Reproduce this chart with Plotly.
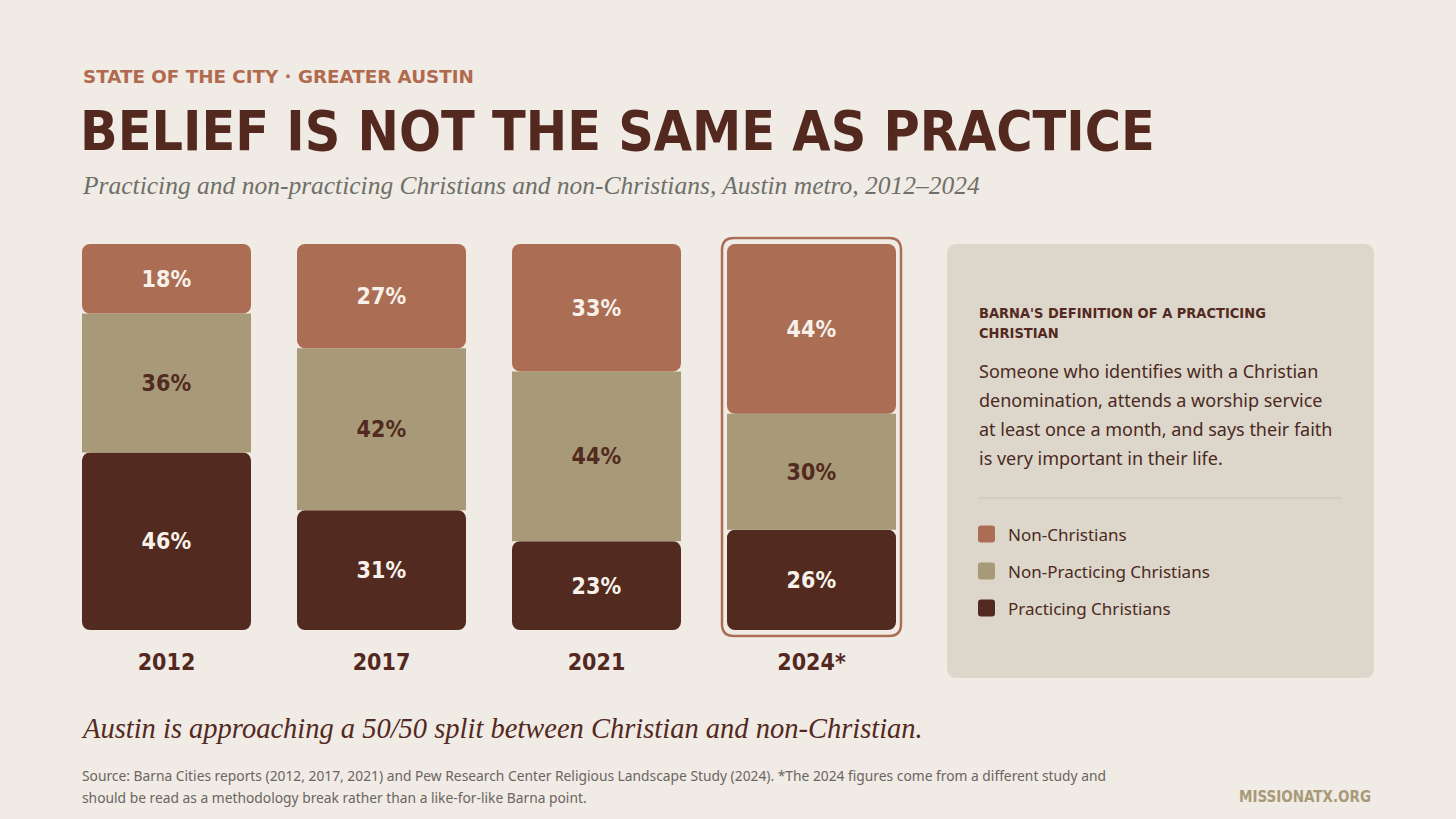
import plotly.graph_objects as go

# --- data ---
years = ["2012", "2017", "2021", "2024*"]
practicing = [46, 31, 23, 26]
non_practicing = [36, 42, 44, 30]
non_christian = [18, 27, 33, 44]

series_names = ["Non-Christians", "Non-Practicing Christians", "Practicing Christians"]

kicker = "STATE OF THE CITY · GREATER AUSTIN"
title = "BELIEF IS NOT THE SAME AS PRACTICE"
subtitle = "Practicing and non-practicing Christians and non-Christians, Austin metro, 2012–2024"
takeaway = "Austin is approaching a 50/50 split between Christian and non-Christian."
panel_head = ["BARNA'S DEFINITION OF A PRACTICING", "CHRISTIAN"]
panel_body = [
    "Someone who identifies with a Christian",
    "denomination, attends a worship service",
    "at least once a month, and says their faith",
    "is very important in their life.",
]
source_lines = [
    "Source: Barna Cities reports (2012, 2017, 2021) and Pew Research Center Religious Landscape Study (2024). "
    "*The 2024 figures come from a different study and",
    "should be read as a methodology break rather than a like-for-like Barna point.",
]
site = "MISSIONATX.ORG"
highlight_year = "2024*"

# --- style ---
W, H = 1456, 819
BG = "#F0EBE5"
PANEL = "#DDD6CA"
C_NONC = "#AB6E55"
C_NONP = "#A89A78"
C_PRAC = "#522A20"
DARK = "#53291F"
KICKER = "#B06A4E"
LIGHT = "#F7F1EA"
GREY = "#6E7068"
COND = "DejaVu Sans Condensed, sans-serif"
WIDE = "DejaVu Sans, sans-serif"
SERIF = "Liberation Serif, DejaVu Serif, serif"
SANS = "Noto Sans, Lato, sans-serif"


def px(x):
    return x / W


def py(y):
    return 1 - y / H


def pct(vals):
    return [f"{v}%" for v in vals]


fig = go.Figure()

bar_w = 0.786
base_top = [p + n for p, n in zip(practicing, non_practicing)]
label_font = dict(family=COND, size=23, weight="bold")

# practicing drawn downward from its top so the rounded tip sits at the bottom
fig.add_trace(go.Bar(
    x=years, y=[-p for p in practicing], base=practicing, width=bar_w,
    name=series_names[2], text=pct(practicing), texttemplate="%{text}",
    textposition="inside", insidetextanchor="middle", textangle=0,
    textfont=dict(label_font, color=LIGHT),
    marker=dict(color=C_PRAC, cornerradius=8, line=dict(width=0)),
    hoverinfo="skip", showlegend=False,
))
fig.add_trace(go.Bar(
    x=years, y=non_practicing, base=practicing, width=bar_w,
    name=series_names[1], text=pct(non_practicing), texttemplate="%{text}",
    textposition="inside", insidetextanchor="middle", textangle=0,
    textfont=dict(label_font, color=C_PRAC),
    marker=dict(color=C_NONP, line=dict(width=0)),
    hoverinfo="skip", showlegend=False,
))
fig.add_trace(go.Bar(
    x=years, y=non_christian, base=base_top, width=bar_w,
    name=series_names[0], text=pct(non_christian), texttemplate="%{text}",
    textposition="inside", insidetextanchor="middle", textangle=0,
    textfont=dict(label_font, color=LIGHT),
    marker=dict(color=C_NONC, cornerradius=8, line=dict(width=0)),
    hoverinfo="skip", showlegend=False,
))

# outline around the 2024 bar (pixel-sized rounded rect anchored on the category)
hw, hh, r = 89.5, 199, 12
outline = (
    f"M{-hw + r},{-hh} L{hw - r},{-hh} Q{hw},{-hh} {hw},{-hh + r} "
    f"L{hw},{hh - r} Q{hw},{hh} {hw - r},{hh} L{-hw + r},{hh} "
    f"Q{-hw},{hh} {-hw},{hh - r} L{-hw},{-hh + r} Q{-hw},{-hh} {-hw + r},{-hh} Z"
)
fig.add_shape(type="path", xref="x", yref="y", xsizemode="pixel", ysizemode="pixel",
              xanchor=highlight_year, yanchor=50, path=outline,
              line=dict(color=C_NONC, width=2.5), fillcolor="rgba(0,0,0,0)")


def rounded_paper(x0, y0, x1, y1, rad):
    rx, ry = rad / W, rad / H
    a0, a1 = px(x0), px(x1)
    b0, b1 = py(y1), py(y0)
    return (
        f"M{a0 + rx},{b0} L{a1 - rx},{b0} Q{a1},{b0} {a1},{b0 + ry} "
        f"L{a1},{b1 - ry} Q{a1},{b1} {a1 - rx},{b1} L{a0 + rx},{b1} "
        f"Q{a0},{b1} {a0},{b1 - ry} L{a0},{b0 + ry} Q{a0},{b0} {a0 + rx},{b0} Z"
    )


# side panel
fig.add_shape(type="path", xref="paper", yref="paper", layer="below",
              path=rounded_paper(947, 244, 1374, 678, 10),
              fillcolor=PANEL, line=dict(width=0))
fig.add_shape(type="line", xref="paper", yref="paper",
              x0=px(978), x1=px(1342), y0=py(498), y1=py(498),
              line=dict(color="#CBC1AE", width=1.2))

for i, line in enumerate(panel_head):
    fig.add_annotation(x=px(977), y=py(313 + 20 * i), xref="paper", yref="paper",
                       text=line, showarrow=False, xanchor="left", yanchor="middle",
                       font=dict(family=COND, size=14.5, color=DARK, weight="bold"))
for i, line in enumerate(panel_body):
    fig.add_annotation(x=px(977), y=py(371 + 29 * i), xref="paper", yref="paper",
                       text=line, showarrow=False, xanchor="left", yanchor="middle",
                       font=dict(family=SANS, size=18, color="#4A2A22"))

# legend swatches
for i, (name, col) in enumerate(zip(series_names, [C_NONC, C_NONP, C_PRAC])):
    yc = 534 + 37 * i
    fig.add_shape(type="path", xref="paper", yref="paper",
                  path=rounded_paper(978, yc - 8.5, 995, yc + 8.5, 3),
                  fillcolor=col, line=dict(width=0))
    fig.add_annotation(x=px(1006), y=py(yc), xref="paper", yref="paper",
                       text=name, showarrow=False, xanchor="left", yanchor="middle",
                       font=dict(family=SANS, size=17, color="#4A2A22"))

# header
fig.add_annotation(x=px(81), y=py(76), xref="paper", yref="paper", text=kicker,
                   showarrow=False, xanchor="left", yanchor="middle",
                   font=dict(family=WIDE, size=18.3, color=KICKER, weight="bold"))
fig.add_annotation(x=px(78), y=py(131), xref="paper", yref="paper", text=title,
                   showarrow=False, xanchor="left", yanchor="middle",
                   font=dict(family=COND, size=55, color=DARK, weight="bold"))
fig.add_annotation(x=px(80), y=py(186), xref="paper", yref="paper", text=subtitle,
                   showarrow=False, xanchor="left", yanchor="middle",
                   font=dict(family=SERIF, size=25.5, color=GREY, style="italic"))

# footer
fig.add_annotation(x=px(79), y=py(728), xref="paper", yref="paper", text=takeaway,
                   showarrow=False, xanchor="left", yanchor="middle",
                   font=dict(family=SERIF, size=28.5, color=DARK, style="italic"))
for i, line in enumerate(source_lines):
    fig.add_annotation(x=px(80), y=py(775 + 22 * i), xref="paper", yref="paper",
                       text=line, showarrow=False, xanchor="left", yanchor="middle",
                       font=dict(family=SANS, size=13.8, color="#6B6560"))
fig.add_annotation(x=px(1373), y=py(797), xref="paper", yref="paper", text=site,
                   showarrow=False, xanchor="right", yanchor="middle",
                   font=dict(family=COND, size=15, color=C_NONP, weight="bold"))

# axes: y range padded so the 2024 outline is not clipped
fig.update_yaxes(range=[-2, 102], visible=False, fixedrange=True,
                 domain=[py(637.7), py(236.3)])
fig.update_xaxes(type="category", showgrid=False, showline=False, zeroline=False,
                 ticks="", ticklabelstandoff=8, fixedrange=True,
                 tickfont=dict(family=COND, size=23, color=DARK, weight="bold"),
                 domain=[px(59), px(919)])

fig.update_layout(
    width=W, height=H,
    margin=dict(l=0, r=0, t=0, b=0),
    paper_bgcolor=BG, plot_bgcolor=BG,
    barmode="overlay",
    showlegend=False,
)

# drop the default page margin so the figure sits flush in the window
fig.write_html("out.html", config={"displayModeBar": False},
               post_script="document.body.style.margin='0';")
